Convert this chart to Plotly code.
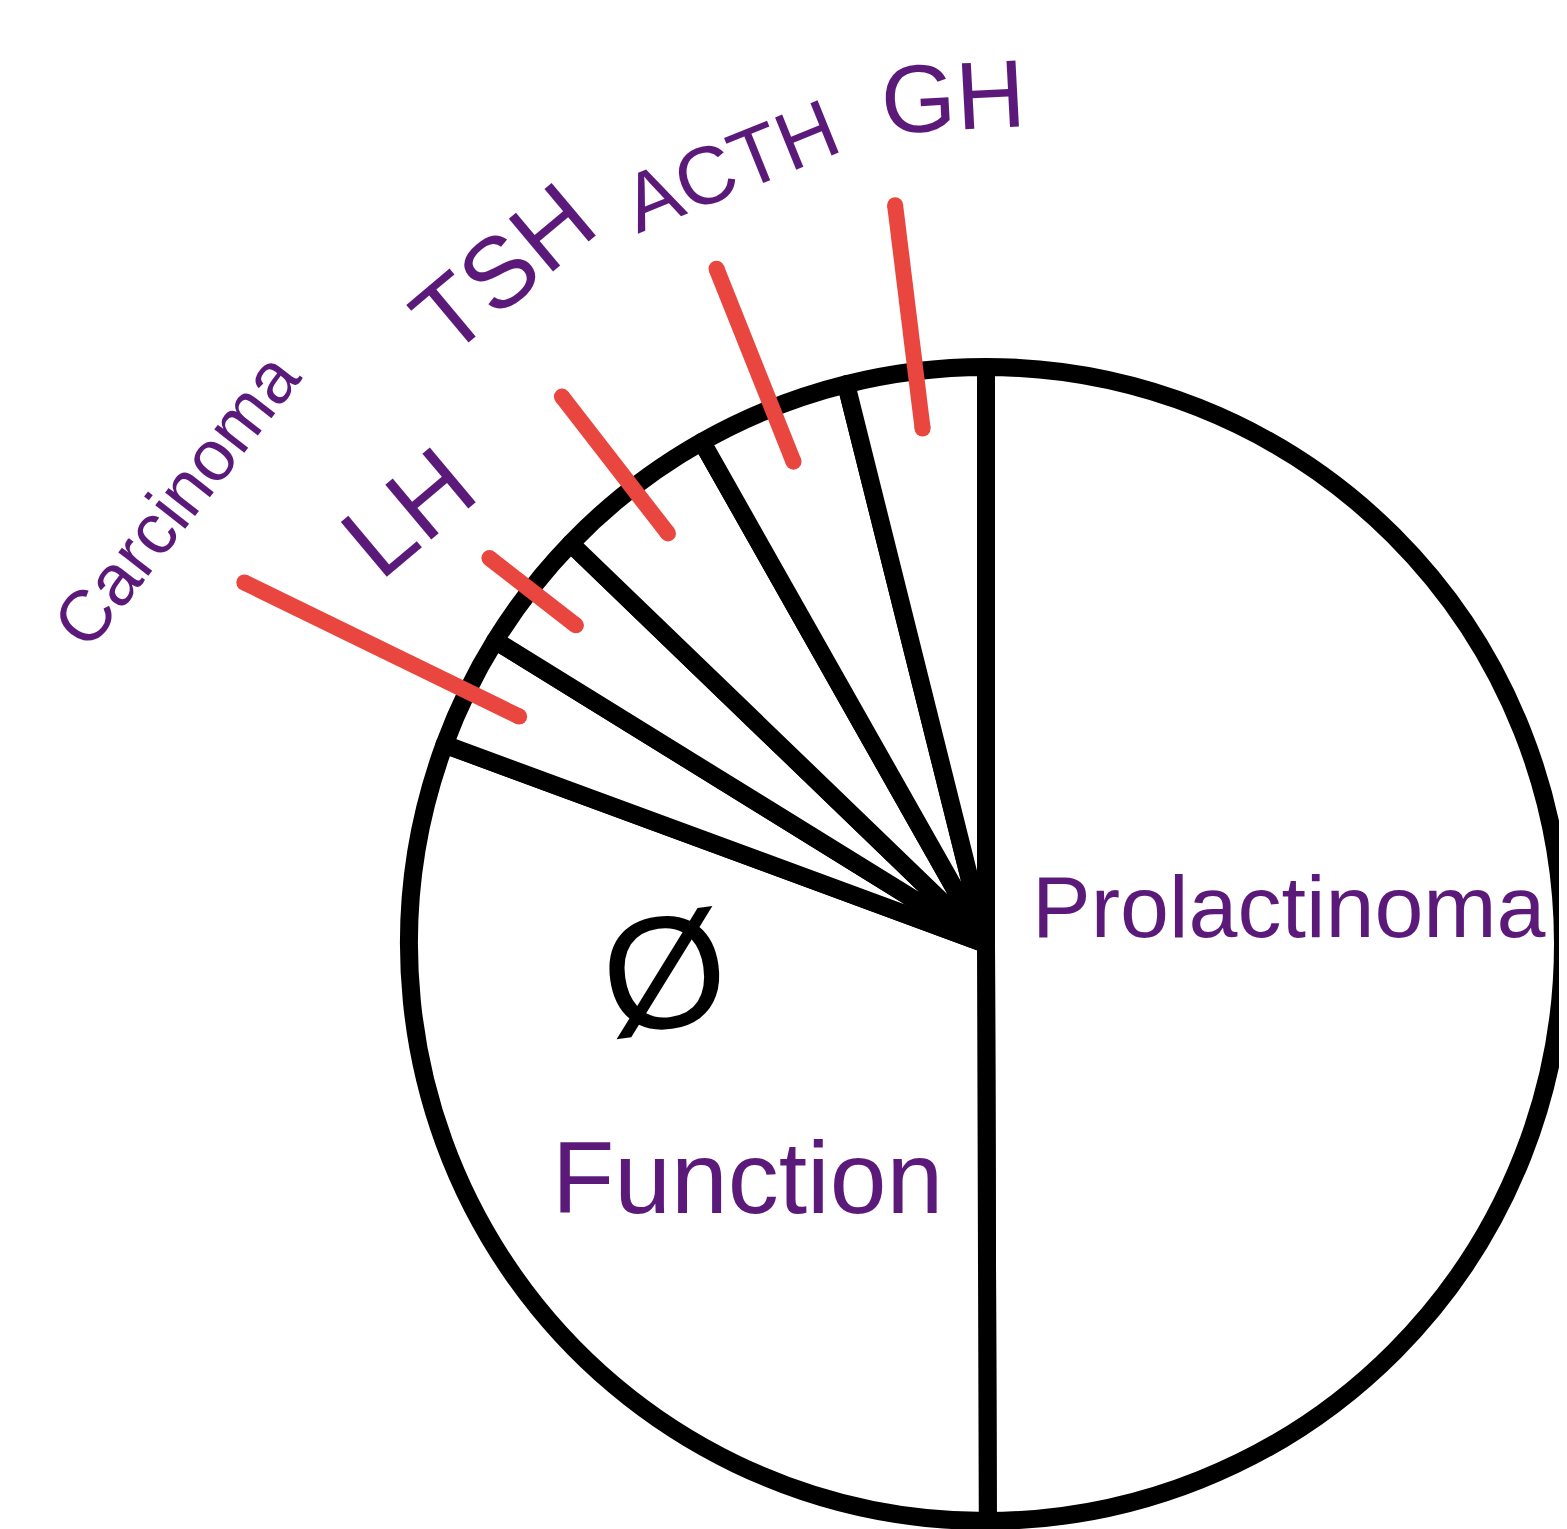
import math

import plotly.graph_objects as go

# Pituitary tumour types, share of cases (%)
categories = ["Prolactinoma", "Non-functioning", "Carcinoma", "LH", "TSH", "ACTH", "GH"]
shares = [50, 30.7, 3.2, 3.4, 4.6, 4.3, 3.9]
label_text = ["Prolactinoma", "Function", "Carcinoma", "LH", "TSH", "ACTH", "GH"]

W, H = 1567, 1529
CX, CY, R = 978, 936, 577
PURPLE = "#5b1a79"
RED = "#e8463e"
FONT = "Liberation Sans, Arial, sans-serif"

# label placement per slice: radius (x R), angle nudge (deg), text angle, font size
label_r = [0.53, 0.58, 1.60, 1.25, 1.44, 1.42, 1.47]
label_nudge = [-7.0, -9.5, 2.8, -1.1, 2.2, 3.6, 4.8]
label_rot = [0, 0, -52, -40, -40, -22, -3]
label_size = [88, 102, 72, 104, 100, 82, 96]
# red leaders for the small slices: outer radius (x R), None = no leader
leader_out = [None, None, 1.43, 1.09, 1.20, 1.26, 1.29]
leader_in = 0.9
LEAD_W = 16


def to_px(angle, radius):
    """Clockwise angle from 12 o'clock (deg) and radius (px) -> pixel x, y."""
    a = math.radians(angle)
    return CX + radius * math.sin(a), CY - radius * math.cos(a)


total = sum(shares)
mids = []
acc = 0.0
for s in shares:
    mids.append((acc + s / 2) / total * 360)
    acc += s

fig = go.Figure(
    go.Pie(
        labels=categories,
        values=shares,
        sort=False,
        direction="clockwise",
        rotation=0,
        textinfo="none",
        hoverinfo="label+percent",
        marker={"colors": ["white"] * len(shares), "line": {"color": "black", "width": 18}},
        domain={
            "x": [(CX - R) / W, (CX + R) / W],
            "y": [1 - (CY + R) / H, 1 - (CY - R) / H],
        },
        showlegend=False,
    )
)

annotations = []
shapes = []
for i, txt in enumerate(label_text):
    x, y = to_px(mids[i] + label_nudge[i], label_r[i] * R)
    annotations.append(
        dict(
            x=x, y=y, xref="x", yref="y", text=txt, showarrow=False,
            textangle=label_rot[i], xanchor="center", yanchor="middle",
            font={"family": FONT, "size": label_size[i], "color": PURPLE},
        )
    )
    if leader_out[i] is not None:
        x0, y0 = to_px(mids[i], leader_in * R)
        x1, y1 = to_px(mids[i], leader_out[i] * R)
        shapes.append(
            dict(type="line", xref="x", yref="y", x0=x0, y0=y0, x1=x1, y1=y1,
                 line={"color": RED, "width": LEAD_W}, layer="above")
        )
        # round caps
        for px, py in [(x0, y0), (x1, y1)]:
            shapes.append(
                dict(type="circle", xref="x", yref="y",
                     x0=px - LEAD_W / 2, x1=px + LEAD_W / 2,
                     y0=py - LEAD_W / 2, y1=py + LEAD_W / 2,
                     fillcolor=RED, line={"width": 0}, layer="above")
            )

# the "null" sign above "Function"
zx, zy = to_px(265, 0.56 * R)
annotations.append(
    dict(x=zx, y=zy, xref="x", yref="y", text="Ø", showarrow=False,
         textangle=-8,
         font={"family": FONT, "size": 160, "color": "black"})
)

fig.update_layout(
    width=W,
    height=H,
    margin={"l": 0, "r": 0, "t": 0, "b": 0},
    paper_bgcolor="white",
    plot_bgcolor="white",
    xaxis={"range": [0, W], "visible": False, "fixedrange": True},
    yaxis={"range": [H, 0], "visible": False, "fixedrange": True},
    annotations=annotations,
    shapes=shapes,
)

fig.write_html("out.html")
